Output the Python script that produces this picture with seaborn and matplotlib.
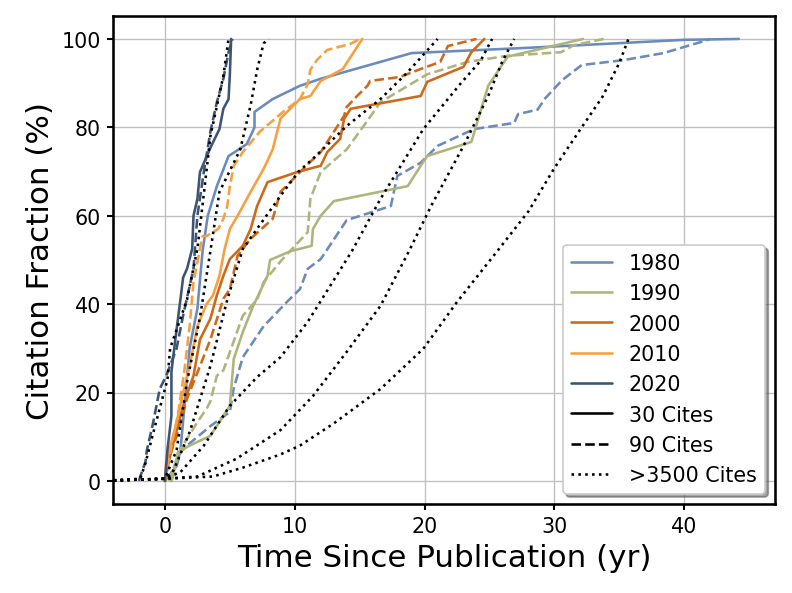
import matplotlib
matplotlib.use("Agg")
import matplotlib.pyplot as plt
import seaborn as sns
from matplotlib.lines import Line2D

# decade colours
decades = ["1980", "1990", "2000", "2010", "2020"]
decade_colors = ["#6a8bbb", "#afb47b", "#cf6818", "#f7a040", "#3d5474"]

# 30 cites (solid)
t_1980_30 = [0, 0.9, 1.2, 1.9, 2.5, 2.9, 3.2, 3.3, 4.0, 4.9, 6.3, 6.9, 6.9, 8.3, 10.4, 12.0, 19.0, 28.0, 40.0, 44.2]
f_1980_30 = [0, 3.4, 7.0, 30.0, 39.0, 52.0, 58.0, 60.0, 66.7, 73.5, 76.2, 80.0, 83.5, 86.4, 89.4, 91.0, 96.8, 98.0, 99.8, 100]
t_1990_30 = [0.5, 0.8, 1.0, 1.9, 3.5, 5.0, 5.3, 6.0, 6.8, 7.9, 8.1, 9.7, 11.3, 11.4, 12.0, 13.0, 18.7, 19.7, 20.2, 23.6, 24.9, 26.4, 32.2]
f_1990_30 = [0, 3.4, 6.5, 8.0, 10.2, 17.0, 27.6, 33.7, 39.6, 46.4, 50.0, 52.0, 53.2, 57.0, 60.0, 63.3, 66.7, 71.3, 73.5, 76.7, 89.4, 96.0, 100]
t_2000_30 = [0, 0.4, 1.4, 2.2, 2.7, 3.5, 4.0, 4.5, 5.0, 6.0, 6.6, 7.1, 7.9, 10.2, 12.0, 12.5, 13.5, 13.8, 14.3, 19.7, 20.2, 23.0, 23.6, 24.6]
f_2000_30 = [0, 5.7, 17.0, 23.8, 32.0, 36.7, 42.0, 46.4, 50.2, 53.2, 57.0, 62.2, 67.6, 69.9, 71.3, 74.4, 77.4, 81.9, 84.2, 87.1, 90.3, 93.7, 97.0, 100]
t_2010_30 = [0, 0.1, 0.9, 1.4, 1.9, 2.5, 3.2, 3.7, 4.2, 4.6, 5.0, 5.6, 6.6, 7.6, 8.3, 8.9, 10.4, 11.2, 12.0, 13.7, 15.2]
f_2010_30 = [0, 4.3, 13.3, 20.0, 26.0, 35.0, 40.0, 42.0, 46.4, 52.5, 57.0, 60.0, 65.4, 70.6, 75.0, 82.0, 86.4, 87.1, 90.5, 93.2, 100]
t_2020_30 = [0, 0.2, 0.5, 0.5, 0.8, 1.2, 1.4, 1.7, 2.1, 2.2, 2.5, 2.7, 3.3, 3.6, 4.2, 4.5, 4.9, 5.0, 5.1]
f_2020_30 = [0, 7.2, 14.7, 24.7, 32.0, 41.2, 46.0, 48.0, 52.5, 60.0, 63.8, 69.9, 74.0, 76.0, 79.6, 84.2, 86.4, 92.0, 100]

# 90 cites (dashed)
t_1980_90 = [0.5, 1.2, 1.7, 3.5, 5.0, 5.3, 6.0, 7.6, 9.4, 10.4, 11.0, 12.0, 14.0, 17.4, 17.9, 19.7, 21.0, 23.8, 26.9, 27.2, 28.7, 29.3, 30.6, 32.1, 35.3, 38.4, 41.5, 42.0]
f_1980_90 = [0, 6.5, 8.0, 12.4, 15.6, 21.0, 28.0, 35.0, 40.5, 43.4, 48.0, 50.2, 59.0, 62.2, 69.0, 72.0, 75.8, 79.6, 81.0, 83.0, 84.0, 86.6, 90.7, 94.1, 95.2, 96.8, 99.5, 100]
t_1990_90 = [0.3, 1.2, 2.5, 3.2, 3.5, 4.0, 4.5, 6.0, 7.1, 7.6, 9.0, 11.0, 11.2, 12.0, 14.0, 15.3, 16.6, 20.2, 23.3, 26.4, 30.5, 31.5, 33.8]
f_1990_90 = [0, 7.2, 13.3, 16.3, 18.0, 23.8, 25.0, 37.4, 41.0, 45.0, 50.0, 56.3, 63.8, 69.9, 75.0, 80.3, 85.7, 92.0, 94.8, 96.2, 97.0, 98.6, 100]
t_2000_90 = [0, 0.2, 0.9, 1.7, 2.7, 3.5, 4.5, 5.0, 5.6, 6.6, 8.3, 8.9, 11.2, 12.0, 13.8, 14.0, 14.8, 15.6, 15.8, 18.1, 19.7, 21.2, 21.8, 23.3, 24.0]
f_2000_90 = [0, 4.3, 10.2, 18.6, 26.0, 32.0, 41.2, 43.4, 51.0, 54.8, 59.3, 65.4, 72.2, 74.4, 82.6, 84.6, 87.1, 89.4, 90.5, 91.4, 93.2, 94.8, 98.4, 99.5, 100]
t_2010_90 = [0, 0.3, 1.0, 1.5, 1.9, 2.2, 2.7, 2.9, 3.2, 4.1, 4.5, 4.8, 5.0, 5.3, 6.0, 7.3, 9.1, 10.4, 11.0, 11.2, 11.7, 12.5, 14.3, 15.0]
f_2010_90 = [0, 5.0, 15.0, 25.0, 35.0, 45.0, 52.5, 55.4, 55.4, 57.0, 59.3, 62.2, 66.7, 71.3, 74.4, 79.0, 83.5, 86.4, 89.8, 93.0, 95.2, 97.5, 98.9, 100]
t_2020_90 = [-2.0, -1.9, -1.5, -1.4, -0.9, -0.4, 0.1, 0.9, 1.4, 2.2, 2.5, 3.0, 3.5, 4.0, 4.5, 4.9, 5.2]
f_2020_90 = [0, 1.0, 4.3, 6.8, 13.3, 20.8, 23.8, 30.0, 37.4, 48.0, 60.0, 70.0, 79.0, 85.7, 91.0, 97.0, 100]

# >3500 cites (dotted, black)
t_top_a = [-5, -1.9, -1.5, -0.8, 0.2, 0.4, 1.7, 2.5, 3.0, 3.5, 4.5, 4.9]
f_top_a = [0, 0.5, 4.0, 12.0, 23.0, 30.0, 41.0, 52.5, 65.0, 78.0, 91.6, 100]
t_top_b = [-5, 0, 0.9, 1.7, 2.7, 3.5, 4.2, 5.3, 5.8, 6.6, 7.1, 7.6, 8.0]
f_top_b = [0, 0.5, 7.0, 22.4, 37.0, 52.0, 65.4, 72.0, 75.0, 85.0, 93.0, 99.0, 100]
t_top_c = [-5, 0, 0.6, 1.9, 3.5, 4.8, 6.0, 8.3, 8.9, 10.3, 11.4, 14.0, 16.6, 18.7, 21.0]
f_top_c = [0, 0.5, 2.0, 11.0, 26.0, 41.0, 52.5, 62.0, 64.5, 70.0, 72.9, 80.3, 86.4, 92.5, 100]
t_top_d = [-5, 0, 1.2, 3.0, 5.0, 7.1, 8.9, 11.0, 14.4, 16.6, 19.9, 22.8, 24.3, 25.2]
f_top_d = [0, 0.5, 2.0, 8.0, 17.0, 23.5, 28.0, 36.0, 52.0, 63.8, 79.6, 90.0, 95.0, 100]
t_top_e = [-5, 0, 2.5, 5.5, 8.9, 11.4, 14.0, 16.6, 18.8, 20.5, 23.0, 24.9, 26.0, 26.9]
f_top_e = [0, 0.5, 1.0, 5.0, 11.5, 19.2, 29.2, 39.6, 52.0, 62.2, 75.8, 87.1, 95.0, 100]
t_top_f = [-5, 0, 3.7, 6.0, 8.9, 10.4, 13.0, 16.6, 19.9, 22.5, 25.6, 28.0, 30.0, 32.1, 33.7, 35.0, 35.7]
f_top_f = [0, 0.5, 1.0, 3.0, 6.0, 8.0, 13.0, 20.8, 29.9, 40.5, 52.0, 61.0, 70.8, 80.0, 86.9, 94.6, 100]

solid_t = [t_1980_30, t_1990_30, t_2000_30, t_2010_30, t_2020_30]
solid_f = [f_1980_30, f_1990_30, f_2000_30, f_2010_30, f_2020_30]
dashed_t = [t_1980_90, t_1990_90, t_2000_90, t_2010_90, t_2020_90]
dashed_f = [f_1980_90, f_1990_90, f_2000_90, f_2010_90, f_2020_90]
dotted_t = [t_top_a, t_top_b, t_top_c, t_top_d, t_top_e, t_top_f]
dotted_f = [f_top_a, f_top_b, f_top_c, f_top_d, f_top_e, f_top_f]

sns.set_theme(style="whitegrid")
plt.rcParams["font.family"] = ["DejaVu Sans"]
plt.rcParams["axes.edgecolor"] = "black"
plt.rcParams["axes.linewidth"] = 1.5
plt.rcParams["axes.labelcolor"] = "black"
plt.rcParams["text.color"] = "black"
plt.rcParams["grid.color"] = "#c0c0c0"
plt.rcParams["grid.linewidth"] = 0.8
plt.rcParams["xtick.bottom"] = True
plt.rcParams["ytick.left"] = True
plt.rcParams["xtick.color"] = "black"
plt.rcParams["ytick.color"] = "black"

fig = plt.figure(figsize=(6.395, 4.79), dpi=124)
ax = fig.add_axes([0.1425, 0.15, 0.835, 0.8215])

for i in range(len(decades)):
    sns.lineplot(x=solid_t[i], y=solid_f[i], color=decade_colors[i], linewidth=1.5,
                 sort=False, estimator=None, ax=ax)
    sns.lineplot(x=dashed_t[i], y=dashed_f[i], color=decade_colors[i], linewidth=1.5,
                 linestyle="--", sort=False, estimator=None, ax=ax)

for tt, ff in zip(dotted_t, dotted_f):
    sns.lineplot(x=tt, y=ff, color="black", linewidth=1.5, linestyle=":",
                 sort=False, estimator=None, ax=ax)

ax.set_xlim(-4, 47)
ax.set_ylim(-5.2, 105.2)
ax.set_xticks([0, 10, 20, 30, 40])
ax.set_yticks([0, 20, 40, 60, 80, 100])
ax.tick_params(labelsize=12, length=3.5, width=1.2)
ax.set_xlabel("Time Since Publication (yr)", fontsize=18)
ax.set_ylabel("Citation Fraction (%)", fontsize=18)

handles = [Line2D([0], [0], color=c, lw=1.5) for c in decade_colors]
handles += [Line2D([0], [0], color="black", lw=1.5, linestyle=s) for s in ["-", "--", ":"]]
labels = decades + ["30 Cites", "90 Cites", ">3500 Cites"]
leg = ax.legend(handles, labels, loc="lower right", fontsize=12, shadow=True,
                fancybox=True, framealpha=1, edgecolor="#cccccc")

fig.savefig("out.png", dpi=124)
